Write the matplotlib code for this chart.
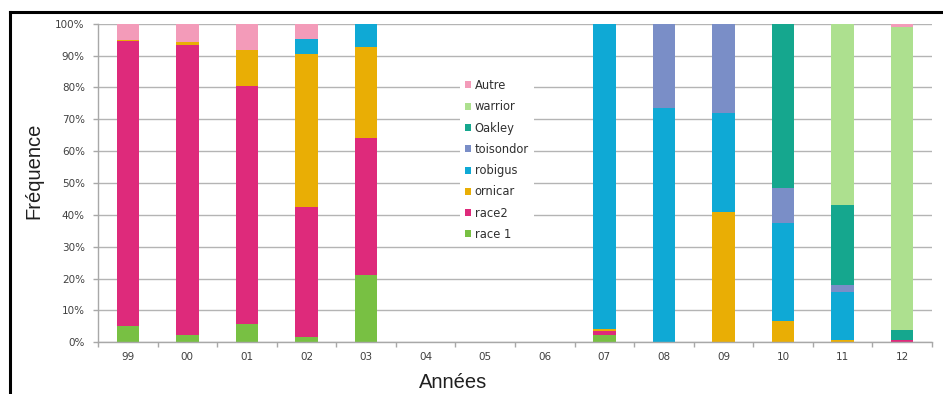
import matplotlib
matplotlib.use("Agg")
import matplotlib.pyplot as plt
import numpy as np
from matplotlib.lines import Line2D
from matplotlib.ticker import PercentFormatter, FixedLocator

# years on the x axis
years = ["99", "00", "01", "02", "03", "04", "05", "06", "07", "08", "09", "10", "11", "12"]

# share of each variety per year (%), stacked bottom -> top
race1 = [5.0, 2.3, 5.6, 1.6, 21.1, 0, 0, 0, 2.4, 0, 0, 0, 0, 0]
race2 = [89.5, 91.1, 74.8, 41.0, 43.1, 0, 0, 0, 1.0, 0, 0, 0, 0, 0.8]
ornicar = [0.5, 0.9, 11.3, 47.9, 28.6, 0, 0, 0, 0.8, 0, 40.9, 6.6, 0.8, 0]
robigus = [0, 0, 0, 4.8, 7.2, 0, 0, 0, 95.8, 73.6, 31.2, 30.9, 15.0, 0]
toisondor = [0, 0, 0, 0, 0, 0, 0, 0, 0, 26.4, 27.9, 11.0, 2.2, 0]
oakley = [0, 0, 0, 0, 0, 0, 0, 0, 0, 0, 0, 51.5, 25.0, 3.2]
warrior = [0, 0, 0, 0, 0, 0, 0, 0, 0, 0, 0, 0, 57.0, 94.9]
autre = [5.0, 5.7, 8.3, 4.7, 0, 0, 0, 0, 0, 0, 0, 0, 0, 1.1]

series = [
    ("race 1", race1, "#78c043"),
    ("race2", race2, "#de2a7b"),
    ("ornicar", ornicar, "#e9ae05"),
    ("robigus", robigus, "#0fa9d5"),
    ("toisondor", toisondor, "#7a8ec7"),
    ("Oakley", oakley, "#15a78e"),
    ("warrior", warrior, "#ade08f"),
    ("Autre", autre, "#f39bb9"),
]

W, H = 943, 394
fig = plt.figure(figsize=(W / 100, H / 100), dpi=100)
ax = fig.add_axes([98 / W, 1 - 342.3 / H, (932 - 98) / W, (342.3 - 23.7) / H])

x = np.arange(len(years))
bottom = np.zeros(len(years))
handles = []
for name, vals, color in series:
    vals = np.asarray(vals, dtype=float)
    bars = ax.bar(x, vals, width=0.375, bottom=bottom, color=color, label=name,
                  linewidth=0, zorder=2)
    bottom += vals
    handles.append(bars)

ax.set_xlim(-0.5, len(years) - 0.5)
ax.set_ylim(0, 100)
ax.yaxis.set_major_locator(FixedLocator(np.arange(0, 101, 10)))
ax.yaxis.set_major_formatter(PercentFormatter(decimals=0))
ax.set_xticks(x, years)
ax.xaxis.set_minor_locator(FixedLocator(np.arange(-0.5, len(years), 1.0)))

ax.grid(axis="y", color="#b4b4b4", linewidth=1.0, zorder=0)
for side in ("top", "right"):
    ax.spines[side].set_visible(False)
for side in ("left", "bottom"):
    ax.spines[side].set_color("#a8a8a8")
    ax.spines[side].set_linewidth(1.0)

ax.tick_params(axis="y", length=3.5, width=1, color="#a8a8a8", pad=6,
               labelsize=7.5, labelcolor="#404040")
ax.tick_params(axis="x", which="major", length=0, pad=7,
               labelsize=7.5, labelcolor="#404040")
ax.tick_params(axis="x", which="minor", length=3.5, width=1, color="#a8a8a8")

leg = ax.legend(handles[::-1], [s[0] for s in series][::-1],
                loc="center", bbox_to_anchor=(497 / W, 1 - 160 / H),
                bbox_transform=fig.transFigure, frameon=True, fancybox=False,
                edgecolor="none", facecolor="white", framealpha=1,
                fontsize=8.3, labelspacing=0.72, handlelength=0.55,
                handleheight=0.55, handletextpad=0.3, borderpad=0.4)
for t in leg.get_texts():
    t.set_color("#303030")

fig.text(33.5 / W, 1 - 171 / H, "Fréquence", rotation=90, ha="center", va="center",
         fontsize=14.5, family="Liberation Sans", color="#202020")
fig.text(453 / W, 1 - 388 / H, "Années", ha="center", va="baseline",
         fontsize=14.5, family="Liberation Sans", color="#202020")

# black frame around the chart (left and top edges visible in the crop)
fig.add_artist(Line2D([10 / W, 10 / W], [0, 1 - 11.5 / H], color="black",
                      linewidth=2.2, transform=fig.transFigure))
fig.add_artist(Line2D([10 / W, 1], [1 - 11.5 / H, 1 - 11.5 / H], color="black",
                      linewidth=2.2, transform=fig.transFigure))

fig.savefig("out.png", dpi=100)
